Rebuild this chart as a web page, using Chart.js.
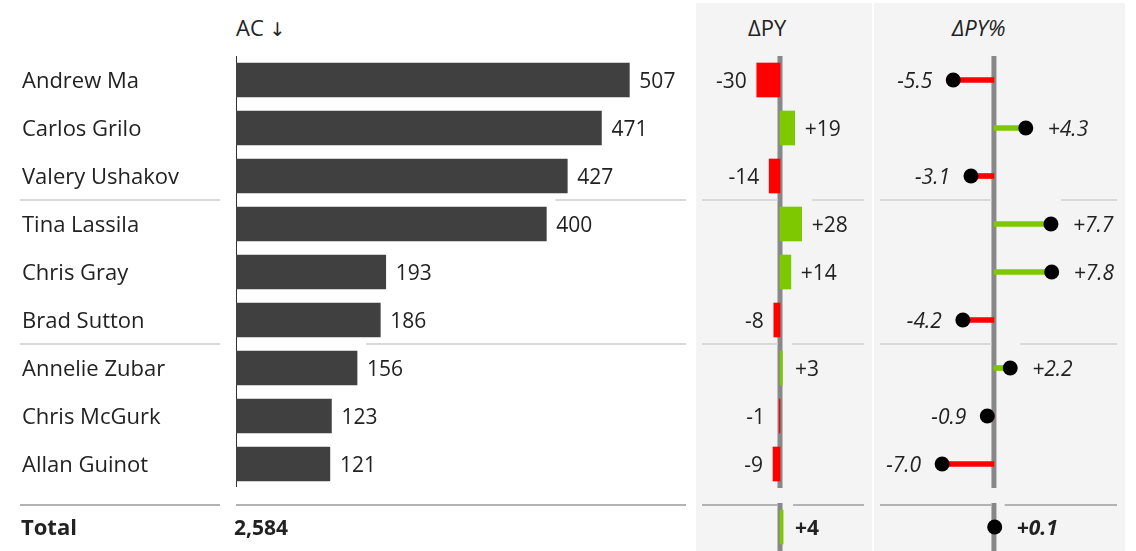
<!DOCTYPE html>
<html><head><meta charset="utf-8">
<script src="https://cdn.jsdelivr.net/npm/chart.js@4.4.1/dist/chart.umd.min.js"></script>
<style>
body{margin:0;background:#fff;width:1136px;height:551px;overflow:hidden;position:relative;font-family:'Open Sans',sans-serif;color:#222}
.bg{position:absolute;background:#f4f4f4}
.box{position:absolute}
.box canvas{display:block}
.hdr{position:absolute;font-size:22px;line-height:28px;top:13px;white-space:nowrap;color:#222}
.arrow{font-family:'DejaVu Sans',sans-serif;font-size:19px;color:#222}
</style></head><body>
<div class="bg" style="left:696px;top:3px;width:176px;height:548px"></div>
<div class="bg" style="left:874px;top:3px;width:251px;height:548px"></div>
<div class="hdr" style="left:236px">AC <span class="arrow">&#x2193;&#xFE0E;</span></div>
<div class="hdr" style="left:748px">ΔPY</div>
<div class="hdr" style="left:952px;font-style:italic">ΔPY%</div>
<div class="box" style="left:0;top:56px"><canvas id="acMain" width="690" height="432"></canvas></div>
<div class="box" style="left:696px;top:56px"><canvas id="dpyMain" width="176" height="432"></canvas></div>
<div class="box" style="left:874px;top:56px"><canvas id="pctMain" width="251" height="432"></canvas></div>
<div class="box" style="left:0;top:496px"><canvas id="acTot" width="690" height="55"></canvas></div>
<div class="box" style="left:696px;top:496px"><canvas id="dpyTot" width="176" height="55"></canvas></div>
<div class="box" style="left:874px;top:496px"><canvas id="pctTot" width="251" height="55"></canvas></div>
<script>
// ---- data ----
const categories = ['Andrew Ma','Carlos Grilo','Valery Ushakov','Tina Lassila','Chris Gray','Brad Sutton','Annelie Zubar','Chris McGurk','Allan Guinot'];
const acValues = [507,471,427,400,193,186,156,123,121];
const dpyValues = [-30,19,-14,28,14,-8,3,-1,-9];
const dpyPctValues = [-5.5,4.3,-3.1,7.7,7.8,-4.2,2.2,-0.9,-7.0];
const totalCategory = ['Total'];
const acTotal = [2584];
const dpyTotal = [4];
const dpyPctTotal = [0.1];
const groupBreaks = [3, 6];

// ---- styles ----
const FONT = "'Open Sans', sans-serif";
const FS_NAME = 22;
const FS = 21;
const DY = 2;
const TEXT = '#222222';
const BAR = '#404040', RED = '#ff0000', GREEN = '#7dc800', AXIS = '#888888';
const SEP = '#d9d9d9', SEP_TOTAL = '#b3b3b3';

function hLine(ctx, x1, x2, y, color) {
  if (x2 <= x1) return;
  ctx.save(); ctx.strokeStyle = color; ctx.lineWidth = 2;
  ctx.beginPath(); ctx.moveTo(x1, y); ctx.lineTo(x2, y); ctx.stroke(); ctx.restore();
}
function vLine(ctx, x, y1, y2, color, w) {
  ctx.save(); ctx.strokeStyle = color; ctx.lineWidth = w;
  ctx.beginPath(); ctx.moveTo(x, y1); ctx.lineTo(x, y2); ctx.stroke(); ctx.restore();
}
function signed(v, d) { return (v < 0 ? '-' : '+') + Math.abs(v).toFixed(d); }

function baseOptions(xMin, xMax, padding, yScale) {
  return {
    indexAxis: 'y', responsive: false, animation: false, devicePixelRatio: 1, events: [],
    layout: { padding, autoPadding: false },
    plugins: { legend: { display: false }, tooltip: { enabled: false } },
    scales: { x: { display: false, min: xMin, max: xMax }, y: yScale }
  };
}
function nameAxis(bold, width) {
  return {
    grid: { display: false }, border: { display: false },
    ticks: { color: TEXT, font: { family: FONT, size: FS_NAME, weight: bold ? 'bold' : 'normal' }, crossAlign: 'far', padding: 0, labelOffset: DY },
    afterFit(s) { s.width = width; s.paddingTop = 0; s.paddingBottom = 0; }
  };
}
const hiddenAxis = { display: false };

// ---- AC panel ----
function acPlugin(isTotal) {
  return {
    id: 'acDeco',
    beforeDatasetsDraw(chart) {
      const { ctx, scales: { x, y }, chartArea: ca } = chart;
      const x0 = Math.round(x.getPixelForValue(0)) + 0.5;
      if (!isTotal) {
        vLine(ctx, x0, ca.top, ca.bottom - 1, '#333', 1);
        const meta = chart.getDatasetMeta(0);
        groupBreaks.forEach(b => {
          const yy = Math.round((y.getPixelForValue(b - 1) + y.getPixelForValue(b)) / 2);
          hLine(ctx, 20, 220, yy, SEP);
          hLine(ctx, meta.data[b].x + 9, ca.right, yy, SEP);
        });
      } else {
        hLine(ctx, 20, 220, 9, SEP_TOTAL);
        hLine(ctx, x0 - 0.5, ca.right, 9, SEP_TOTAL);
      }
    },
    afterDatasetsDraw(chart) {
      const { ctx, scales: { x } } = chart;
      const meta = chart.getDatasetMeta(0);
      ctx.save(); ctx.fillStyle = TEXT; ctx.textBaseline = 'middle'; ctx.textAlign = 'left';
      if (!isTotal) {
        ctx.font = `${FS}px ${FONT}`;
        meta.data.forEach((el, i) => ctx.fillText(String(acValues[i]), el.x + 10, el.y + DY));
      } else {
        ctx.font = `bold ${FS}px ${FONT}`;
        meta.data.forEach((el, i) => ctx.fillText(acTotal[i].toLocaleString('en-US'), x.getPixelForValue(0) - 2, el.y + DY));
      }
      ctx.restore();
    }
  };
}

new Chart(document.getElementById('acMain'), {
  type: 'bar',
  data: { labels: categories, datasets: [{ data: acValues, backgroundColor: BAR, barThickness: 34 }] },
  options: baseOptions(0, 580, { left: 22, right: 4, top: 0, bottom: 0 }, nameAxis(false, 214)),
  plugins: [acPlugin(false)]
});
new Chart(document.getElementById('acTot'), {
  type: 'bar',
  data: { labels: totalCategory, datasets: [{ data: acTotal, backgroundColor: 'rgba(0,0,0,0)', barThickness: 34 }] },
  options: baseOptions(0, 580, { left: 21, right: 4, top: 7, bottom: 0 }, nameAxis(true, 215)),
  plugins: [acPlugin(true)]
});

// ---- delta panels ----
function deltaPlugin(values, kind, isTotal) {
  return {
    id: 'deltaDeco',
    beforeDatasetsDraw(chart) {
      const { ctx, scales: { x, y }, chartArea: ca, width: W } = chart;
      const z = x.getPixelForValue(0);
      vLine(ctx, z, ca.top, ca.bottom, AXIS, 5);
      const col = isTotal ? SEP_TOTAL : SEP;
      const sep = (yy, i) => {
        const endX = x.getPixelForValue(Math.max(0, values[i]));
        hLine(ctx, 6, z - 2.5, yy, col);
        hLine(ctx, Math.max(endX, z) + 10, W - 8, yy, col);
      };
      if (isTotal) sep(9, 0);
      else groupBreaks.forEach(b => sep(Math.round((y.getPixelForValue(b - 1) + y.getPixelForValue(b)) / 2), b));
    },
    afterDatasetsDraw(chart) {
      const { ctx, scales: { x } } = chart;
      const z = x.getPixelForValue(0);
      const meta = chart.getDatasetMeta(0);
      ctx.save(); ctx.fillStyle = TEXT; ctx.textBaseline = 'middle';
      const weight = isTotal ? 'bold ' : '';
      const style = kind === 'pin' ? 'italic ' : '';
      ctx.font = `${style}${weight}${FS}px ${FONT}`;
      meta.data.forEach((el, i) => {
        const v = values[i];
        const ty = el.y + DY;
        if (kind === 'bar') {
          const txt = signed(v, 0);
          if (v < 0) { ctx.textAlign = 'right'; ctx.fillText(txt, Math.min(el.x, z - 5) - 10, ty); }
          else { ctx.textAlign = 'left'; ctx.fillText(txt, Math.max(el.x, z + 5) + 10, ty); }
        } else {
          const txt = signed(v, 1);
          if (v < 0) { ctx.textAlign = 'right'; ctx.fillText(txt, el.x - 21, ty); }
          else { ctx.textAlign = 'left'; ctx.fillText(txt, el.x + 22, ty); }
        }
      });
      ctx.restore();
    }
  };
}

function dpyChart(id, labels, values, isTotal) {
  new Chart(document.getElementById(id), {
    type: 'bar',
    data: { labels, datasets: [{ data: values, backgroundColor: values.map(v => v < 0 ? RED : GREEN), barThickness: 34 }] },
    options: baseOptions(-108.4, 118.7, { left: 0, right: 0, top: isTotal ? 7 : 0, bottom: 0 }, hiddenAxis),
    plugins: [deltaPlugin(values, 'bar', isTotal)]
  });
}
function pctChart(id, labels, values, isTotal) {
  new Chart(document.getElementById(id), {
    type: 'bar',
    data: { labels, datasets: [
      { type: 'line', indexAxis: 'y', data: values, showLine: false, pointRadius: 7.5, pointHoverRadius: 7.5,
        pointBackgroundColor: '#000', pointBorderWidth: 0, order: 0, clip: false },
      { type: 'bar', data: values, backgroundColor: values.map(v => v < 0 ? RED : GREEN), barThickness: 5, grouped: false, order: 1 }
    ] },
    options: baseOptions(-16.2, 17.7, { left: 0, right: 0, top: isTotal ? 7 : 0, bottom: 0 }, hiddenAxis),
    plugins: [deltaPlugin(values, 'pin', isTotal)]
  });
}
dpyChart('dpyMain', categories, dpyValues, false);
dpyChart('dpyTot', totalCategory, dpyTotal, true);
pctChart('pctMain', categories, dpyPctValues, false);
pctChart('pctTot', totalCategory, dpyPctTotal, true);
</script>
</body></html>
